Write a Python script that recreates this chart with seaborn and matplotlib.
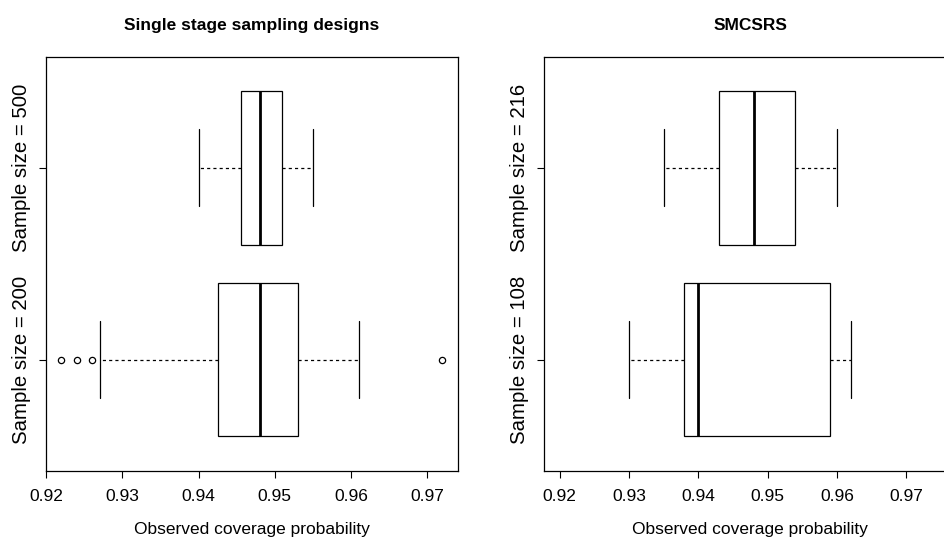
import matplotlib
matplotlib.use("Agg")
import matplotlib.pyplot as plt
import pandas as pd
import seaborn as sns

# Box summaries (top row first, as drawn)
single_labels = ["Sample size = 500", "Sample size = 200"]
single_lo = [0.940, 0.927]
single_q1 = [0.9455, 0.9426]
single_med = [0.948, 0.948]
single_q3 = [0.951, 0.9531]
single_hi = [0.955, 0.961]
single_out = [[], [0.922, 0.924, 0.926, 0.972]]

smcsrs_labels = ["Sample size = 216", "Sample size = 108"]
smcsrs_lo = [0.935, 0.930]
smcsrs_q1 = [0.943, 0.938]
smcsrs_med = [0.948, 0.940]
smcsrs_q3 = [0.954, 0.959]
smcsrs_hi = [0.960, 0.962]
smcsrs_out = [[], []]

x_ticks = [0.92, 0.93, 0.94, 0.95, 0.96, 0.97]


def expand(lo, q1, med, q3, hi, out):
    # build a small sample whose quartiles / whiskers / fliers equal the summary
    low_out = [o for o in out if o < q1]
    high_out = [o for o in out if o > q3]
    L = len(low_out) + 1
    H = len(high_out) + 1
    m = max(L, H)
    return low_out + [lo] + [q1] * (2 * m - L) + [med] + [q3] * (2 * m - H) + [hi] + high_out


def make_df(labels, lo, q1, med, q3, hi, out):
    rows = []
    for i, lab in enumerate(labels):
        for v in expand(lo[i], q1[i], med[i], q3[i], hi[i], out[i]):
            rows.append({"group": lab, "value": v})
    return pd.DataFrame(rows)


df_single = make_df(single_labels, single_lo, single_q1, single_med, single_q3, single_hi, single_out)
df_smcsrs = make_df(smcsrs_labels, smcsrs_lo, smcsrs_q1, smcsrs_med, smcsrs_q3, smcsrs_hi, smcsrs_out)

sns.set_style("ticks")
plt.rcParams['font.family'] = ['Liberation Sans', 'DejaVu Sans']
plt.rcParams['text.color'] = 'black'
plt.rcParams['axes.labelcolor'] = 'black'
plt.rcParams['xtick.color'] = 'black'
plt.rcParams['ytick.color'] = 'black'

fig = plt.figure(figsize=(9.44, 5.38), dpi=100)
ax1 = fig.add_axes([0.049, 0.1245, 0.4358, 0.7704])
ax2 = fig.add_axes([0.5766, 0.1245, 0.4363, 0.7704])

box_kw = dict(
    orient='h', color='white', linecolor='black', linewidth=0.9, width=0.8,
    whiskerprops={'linestyle': (0, (2.5, 2.5)), 'color': 'black', 'linewidth': 0.9},
    capprops={'color': 'black', 'linewidth': 0.9},
    medianprops={'color': 'black', 'linewidth': 2.0},
    flierprops={'marker': 'o', 'markerfacecolor': 'none', 'markeredgecolor': 'black',
                'markersize': 4.5, 'markeredgewidth': 0.9},
)

sns.boxplot(data=df_single, x='value', y='group', order=single_labels, ax=ax1, **box_kw)
sns.boxplot(data=df_smcsrs, x='value', y='group', order=smcsrs_labels, ax=ax2, **box_kw)

for ax, title, xlim in [(ax1, "Single stage sampling designs", (0.92, 0.974)),
                        (ax2, "SMCSRS", (0.9178, 0.9772))]:
    ax.set_xlim(*xlim)
    ax.set_ylim(1.58, -0.58)
    ax.set_xticks(x_ticks)
    ax.set_xticklabels(["%.2f" % t for t in x_ticks], fontsize=12.5, color='black')
    for lab in ax.get_yticklabels():
        lab.set_rotation(90)
        lab.set_va('center')
        lab.set_fontsize(14.7)
        lab.set_color('black')
    ax.tick_params(direction='out', length=5, width=0.8, colors='black', pad=6)
    ax.tick_params(axis='x', pad=8)
    ax.set_xlabel("Observed coverage probability", fontsize=12.5, labelpad=13, color='black')
    ax.set_ylabel("")
    ax.set_title(title, fontsize=12.5, fontweight='bold', pad=19, color='black')
    for s in ax.spines.values():
        s.set_visible(True)
        s.set_color('black')
        s.set_linewidth(0.9)

fig.savefig("out.png", dpi=100)
